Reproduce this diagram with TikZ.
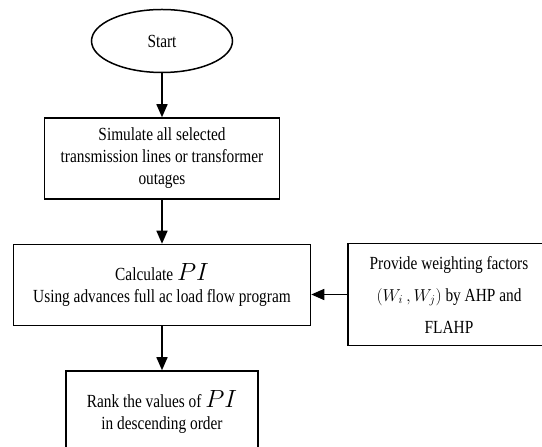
\documentclass[tikz,border=0pt]{standalone}
\usepackage{fontspec}
\setmainfont[FakeStretch=0.83]{Liberation Serif}
\usetikzlibrary{arrows.meta,positioning,shapes.geometric}
\tikzset{
  box/.style={draw, line width=1.5pt, align=center, font=\fontsize{18.5}{22}\selectfont, minimum height=81pt, inner sep=2pt},
  terminal/.style={draw, ellipse, line width=1.5pt, align=center, font=\fontsize{18.5}{22}\selectfont, minimum width=141pt, minimum height=63pt},
  line/.style={-{Triangle[length=13pt,width=11pt]}, line width=1.5pt}
}
\newcommand{\bigPI}{{\fontsize{25}{25}\selectfont$PI$}}

\begin{document}
\begin{tikzpicture}[x=1pt, y=1pt, node distance=44pt]
  \useasboundingbox (0,0) rectangle (542,447);
  \node[terminal] (start) at (162,406) {Start};
  \node[box, minimum width=235pt, below=of start] (sim) {Simulate all selected\\transmission lines or transformer\\outages};
  \node[box, minimum width=297pt, below=of sim] (calc) {Calculate \bigPI\\Using advances full ac load flow program};
  \node[box, minimum width=202pt, minimum height=102pt, font=\fontsize{18.5}{32}\selectfont, right=36pt of calc, yshift=-9.5pt] (weight) {Provide weighting factors\\$(W_i\,, W_j)$ by AHP and\\FLAHP};
  \node[box, minimum width=192pt, minimum height=82pt, below=of calc] (rank) {Rank the values of \bigPI\\in descending order};
  \draw[line] (start) -- (sim);
  \draw[line] (sim) -- (calc);
  \draw[line] (calc) -- (rank);
  \draw[line] (weight.west) -- (weight.west -| calc.east);
\end{tikzpicture}
\end{document}
